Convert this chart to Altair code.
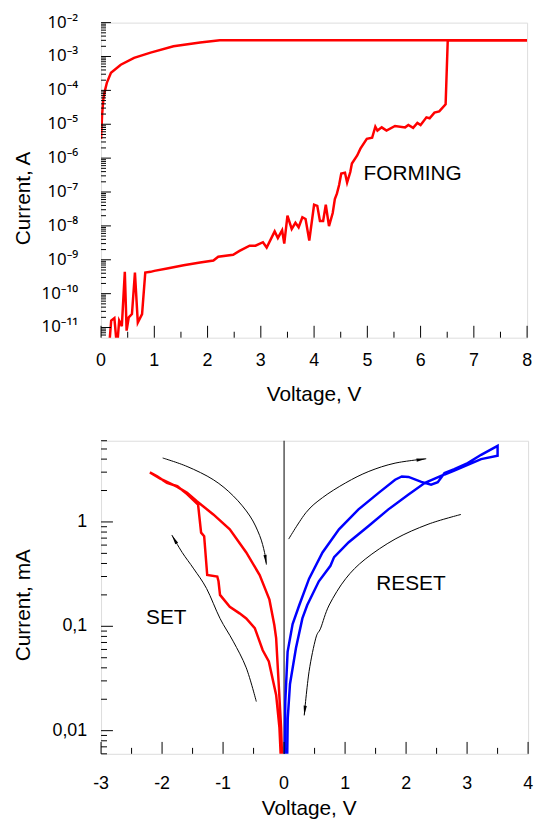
import altair as alt
import pandas as pd

FONT = "Liberation Sans"

# ---------------- top panel: forming ----------------
forming_v = [0.12, 0.16, 0.19, 0.25, 0.30, 0.34, 0.39, 0.446, 0.48, 0.52, 0.58, 0.636, 0.69, 0.77,
             0.83, 0.93, 1.00, 1.24, 1.55, 1.86, 2.11, 2.20, 2.48, 2.60, 2.79, 2.90, 3.04, 3.11,
             3.26, 3.32, 3.40, 3.44, 3.50, 3.58, 3.65, 3.71, 3.78, 3.84, 3.91, 4.00, 4.06, 4.11,
             4.17, 4.22, 4.28, 4.35, 4.39, 4.43, 4.47, 4.51, 4.58, 4.62, 4.68, 4.71, 4.81, 4.87,
             4.99, 5.09, 5.15, 5.19, 5.27, 5.36, 5.52, 5.71, 5.77, 5.86, 5.94, 6.00, 6.11, 6.17,
             6.26, 6.35, 6.47, 6.51, 8.00]
forming_i = [1.6e-12, 4.0e-12, 1.6e-11, 1.9e-11, 2.5e-12, 1.6e-11, 1.1e-11, 4.4e-10, 8.1e-12, 2.0e-11,
             2.5e-11, 4.2e-10, 1.4e-11, 2.5e-11, 4.2e-10, 4.4e-10, 4.7e-10, 5.5e-10, 6.9e-10, 8.3e-10,
             9.5e-10, 1.23e-9, 1.41e-9, 1.82e-9, 2.6e-9, 2.6e-9, 3.3e-9, 2.3e-9, 6.9e-9, 4.4e-9,
             7.4e-9, 3.0e-9, 2.0e-8, 8.1e-9, 1.23e-8, 9.1e-9, 1.8e-8, 1.6e-8, 3.7e-9, 4.2e-8,
             3.9e-8, 1.4e-8, 1.4e-8, 4.2e-8, 9.8e-9, 2.4e-8, 6.2e-8, 9.1e-8, 1.6e-7, 3.5e-7,
             3.7e-7, 1.9e-7, 3.9e-7, 6.9e-7, 1.2e-6, 1.9e-6, 3.7e-6, 4.0e-6, 8.5e-6, 6.5e-6,
             8.1e-6, 6.5e-6, 8.9e-6, 8.1e-6, 9.5e-6, 7.8e-6, 1.1e-5, 9.5e-6, 1.6e-5, 1.5e-5,
             2.2e-5, 2.4e-5, 3.9e-5, 3.0e-3, 3.0e-3]
after_v = [0.0, 0.02, 0.045, 0.074, 0.11, 0.186, 0.37, 0.62, 0.93, 1.36, 1.86, 2.23, 8.0]
after_i = [3.7e-6, 2.0e-5, 6.0e-5, 1.0e-4, 1.7e-4, 3.3e-4, 5.7e-4, 9.1e-4, 1.3e-3, 2.0e-3, 2.6e-3,
           3.0e-3, 3.0e-3]
top_text = ["FORMING"]
top_text_v = [5.85]
top_text_i = [3.5e-7]
top_x_title = "Voltage, V"
top_y_title = "Current, A"

top_x_ticks = [0, 1, 2, 3, 4, 5, 6, 7, 8]
top_x_tick_labels = ["0", "1", "2", "3", "4", "5", "6", "7", "8"]
top_x_minor = [0.5, 1.5, 2.5, 3.5, 4.5, 5.5, 6.5, 7.5]
top_y_ticks = [1e-2, 1e-3, 1e-4, 1e-5, 1e-6, 1e-7, 1e-8, 1e-9, 1e-10, 1e-11]
top_y_tick_labels = ["10⁻²", "10⁻³", "10⁻⁴", "10⁻⁵", "10⁻⁶", "10⁻⁷", "10⁻⁸", "10⁻⁹", "10⁻¹⁰", "10⁻¹¹"]
top_y_min, top_y_max = 10 ** -11.3, 1e-2
top_y_minor = [m * 10.0 ** e for e in range(-12, -2) for m in range(2, 10)
               if top_y_min <= m * 10.0 ** e <= top_y_max]

# ---------------- bottom panel: SET / RESET ----------------
set_v = [-0.05, -0.076, -0.13, -0.25, -0.35, -0.48, -0.62, -0.73, -0.89, -1.05, -1.075, -1.095,
         -1.26, -1.31, -1.36, -1.41, -1.59, -1.75, -1.92, -2.08, -2.20,
         -2.03, -1.75, -1.59, -1.43, -1.16, -0.89, -0.62, -0.40, -0.24, -0.16, -0.13, -0.088,
         -0.049, -0.03]
set_i = [0.005, 0.0107, 0.022, 0.046, 0.059, 0.096, 0.119, 0.133, 0.154, 0.20, 0.27, 0.30,
         0.31, 0.73, 0.79, 1.47, 1.85, 2.2, 2.37, 2.73, 2.98,
         2.6, 2.17, 1.9, 1.58, 1.18, 0.85, 0.51, 0.31, 0.18, 0.103, 0.077, 0.028,
         0.0107, 0.005]
reset_v = [0.01, 0.02, 0.058, 0.14, 0.25, 0.41, 0.63, 0.90, 1.22, 1.55, 1.82, 1.93, 2.04, 2.25,
           2.41, 2.52, 2.63, 2.79, 3.01, 3.23, 3.50,
           3.50, 3.23, 3.01, 2.79, 2.63, 2.31, 2.04, 1.71, 1.39, 1.06, 0.82, 0.76, 0.57, 0.38,
           0.30, 0.195, 0.097, 0.06, 0.05]
reset_i = [0.005, 0.019, 0.057, 0.105, 0.16, 0.286, 0.51, 0.85, 1.32, 1.9, 2.54, 2.73, 2.7, 2.42,
           2.28, 2.4, 2.94, 3.2, 3.66, 4.4, 5.35,
           4.3, 4.0, 3.53, 3.1, 2.85, 2.37, 1.83, 1.32, 0.92, 0.64, 0.46, 0.38, 0.27, 0.16,
           0.119, 0.062, 0.028, 0.013, 0.005]

arrow1_v = [-1.99, -1.59, -1.16, -0.83, -0.56, -0.40, -0.32, -0.29]
arrow1_i = [4.1, 3.4, 2.54, 1.77, 1.14, 0.74, 0.51, 0.39]
arrow2_v = [-0.455, -0.62, -0.835, -1.05, -1.27, -1.48, -1.67, -1.84]
arrow2_i = [0.019, 0.040, 0.072, 0.119, 0.23, 0.355, 0.51, 0.75]
arrow3_v = [0.075, 0.36, 0.63, 1.01, 1.39, 1.82, 2.33]
arrow3_i = [0.685, 1.23, 1.71, 2.37, 3.05, 3.66, 4.03]
arrow4_v = [2.90, 2.36, 1.82, 1.33, 1.01, 0.74, 0.60, 0.52, 0.41, 0.33]
arrow4_i = [1.18, 0.95, 0.685, 0.44, 0.286, 0.16, 0.096, 0.077, 0.037, 0.014]

bottom_text = ["SET", "RESET"]
bottom_text_v = [-1.93, 2.08]
bottom_text_i = [0.119, 0.256]
bot_x_title = "Voltage, V"
bot_y_title = "Current, mA"

bot_x_ticks = [-3, -2, -1, 0, 1, 2, 3, 4]
bot_x_tick_labels = ["-3", "-2", "-1", "0", "1", "2", "3", "4"]
bot_x_minor = [-2.5, -1.5, -0.5, 0.5, 1.5, 2.5, 3.5]
bot_y_ticks = [1, 0.1, 0.01]
bot_y_tick_labels = ["1", "0,1", "0,01"]
bot_y_min, bot_y_max = 0.006, 6
bot_y_minor = [m * 10.0 ** e for e in range(-3, 1) for m in range(2, 10)
               if bot_y_min <= m * 10.0 ** e <= bot_y_max]


# ---------------- helpers ----------------
def path_df(v, i):
    return pd.DataFrame({"V": v, "I": i, "k": list(range(len(v)))})


def x_ticks(values, scale, h, length):
    return alt.Chart(pd.DataFrame({"V": values})).mark_rule(color="black", strokeWidth=1).encode(
        x=alt.X("V:Q", scale=scale, axis=None), y=alt.value(h), y2=alt.value(h - length))


def y_ticks(values, scale, length):
    return alt.Chart(pd.DataFrame({"I": values})).mark_rule(color="black", strokeWidth=1).encode(
        y=alt.Y("I:Q", scale=scale, axis=None), x=alt.value(0), x2=alt.value(length))


def x_labels(values, labels, scale, y_px):
    return alt.Chart(pd.DataFrame({"V": values, "s": labels})).mark_text(
        font=FONT, fontSize=18, color="black", align="center", baseline="top").encode(
        x=alt.X("V:Q", scale=scale, axis=None), y=alt.value(y_px), text="s:N")


def y_labels(values, labels, scale, x_px, font=FONT, size=18):
    return alt.Chart(pd.DataFrame({"I": values, "s": labels})).mark_text(
        font=font, fontSize=size, color="black", align="right", baseline="middle").encode(
        y=alt.Y("I:Q", scale=scale, axis=None), x=alt.value(x_px), text="s:N")


def x_title(text, x_px, y_px):
    return alt.Chart(pd.DataFrame({"s": [text]})).mark_text(
        font=FONT, fontSize=21, color="black", align="center", baseline="top").encode(
        x=alt.value(x_px), y=alt.value(y_px), text="s:N")


def y_title(text, x_px, y_px):
    return alt.Chart(pd.DataFrame({"s": [text]})).mark_text(
        font=FONT, fontSize=21, color="black", align="center", baseline="bottom",
        angle=270).encode(x=alt.value(x_px), y=alt.value(y_px), text="s:N")


# ---------------- top chart ----------------
TW, TH = 430, 318
tx = alt.Scale(domain=[0, 8], nice=False, zero=False)
ty = alt.Scale(type="log", domain=[top_y_min, top_y_max], nice=False)

t_form = alt.Chart(path_df(forming_v, forming_i)).mark_line(
    color="#ff0000", strokeWidth=2.5, clip=True).encode(
    x=alt.X("V:Q", scale=tx, axis=None), y=alt.Y("I:Q", scale=ty, axis=None), order="k:Q")
t_after = alt.Chart(path_df(after_v, after_i)).mark_line(
    color="#ff0000", strokeWidth=2.5, clip=True).encode(
    x=alt.X("V:Q", scale=tx, axis=None), y=alt.Y("I:Q", scale=ty, axis=None), order="k:Q")
t_text = alt.Chart(pd.DataFrame({"V": top_text_v, "I": top_text_i, "t": top_text})).mark_text(
    font=FONT, fontSize=21, color="black", align="center", baseline="middle").encode(
    x=alt.X("V:Q", scale=tx, axis=None), y=alt.Y("I:Q", scale=ty, axis=None), text="t:N")

top = alt.layer(
    t_form, t_after, t_text,
    x_ticks(top_x_ticks, tx, TH, 12), x_ticks(top_x_minor, tx, TH, 6),
    y_ticks(top_y_ticks, ty, 10), y_ticks(top_y_minor, ty, 5),
    x_labels(top_x_ticks, top_x_tick_labels, tx, TH + 15),
    y_labels(top_y_ticks, top_y_tick_labels, ty, -23, font="Noto Sans", size=17),
    x_title(top_x_title, TW / 2, TH + 47),
    y_title(top_y_title, -68, 177.5),
).properties(width=TW, height=TH)

# ---------------- bottom chart ----------------
BW, BH = 431, 316
bx = alt.Scale(domain=[-3, 4], nice=False, zero=False)
by = alt.Scale(type="log", domain=[bot_y_min, bot_y_max], nice=False)

zero_rule = alt.Chart(pd.DataFrame({"V": [0]})).mark_rule(color="black", strokeWidth=1).encode(
    x=alt.X("V:Q", scale=bx, axis=None))

b_set = alt.Chart(path_df(set_v, set_i)).mark_line(
    color="#ff0000", strokeWidth=2.5, clip=True).encode(
    x=alt.X("V:Q", scale=bx, axis=None), y=alt.Y("I:Q", scale=by, axis=None), order="k:Q")
b_reset = alt.Chart(path_df(reset_v, reset_i)).mark_line(
    color="#0000ff", strokeWidth=2.5, clip=True).encode(
    x=alt.X("V:Q", scale=bx, axis=None), y=alt.Y("I:Q", scale=by, axis=None), order="k:Q")

arrows = []
for n, (av, ai) in enumerate([(arrow1_v, arrow1_i), (arrow2_v, arrow2_i),
                              (arrow3_v, arrow3_i), (arrow4_v, arrow4_i)]):
    d = path_df(av, ai)
    d["a"] = n
    arrows.append(d)
arrow_df = pd.concat(arrows, ignore_index=True)

b_arrows = alt.Chart(arrow_df).mark_line(
    color="black", strokeWidth=1, interpolate="cardinal", clip=True).encode(
    x=alt.X("V:Q", scale=bx, axis=None), y=alt.Y("I:Q", scale=by, axis=None),
    detail="a:N", order="k:Q")

HEAD = "M0,0L0.36,2.2L-0.36,2.2Z"
head_layers = []
for av, ai, ang in [(arrow1_v, arrow1_i, 172), (arrow2_v, arrow2_i, 330),
                    (arrow3_v, arrow3_i, 82), (arrow4_v, arrow4_i, 186)]:
    head_layers.append(
        alt.Chart(pd.DataFrame({"V": [av[-1]], "I": [ai[-1]]})).mark_point(
            shape=HEAD, filled=True, color="black", size=80, opacity=1, angle=ang).encode(
            x=alt.X("V:Q", scale=bx, axis=None), y=alt.Y("I:Q", scale=by, axis=None)))

b_text = alt.Chart(pd.DataFrame({"V": bottom_text_v, "I": bottom_text_i, "t": bottom_text})).mark_text(
    font=FONT, fontSize=21, color="black", align="center", baseline="middle").encode(
    x=alt.X("V:Q", scale=bx, axis=None), y=alt.Y("I:Q", scale=by, axis=None), text="t:N")

bottom = alt.layer(
    zero_rule, b_set, b_reset, b_arrows, *head_layers, b_text,
    x_ticks(bot_x_ticks, bx, BH, 12), x_ticks(bot_x_minor, bx, BH, 6),
    y_ticks(bot_y_ticks, by, 12), y_ticks(bot_y_minor, by, 6),
    x_labels(bot_x_ticks, bot_x_tick_labels, bx, BH + 21),
    y_labels(bot_y_ticks, bot_y_tick_labels, by, -14),
    x_title(bot_x_title, 210, BH + 45),
    y_title(bot_y_title, -68, 166),
).properties(width=BW, height=BH)

chart = alt.vconcat(top, bottom, spacing=104, bounds="flush").resolve_scale(
    x="independent", y="independent").properties(
    padding={"left": 12, "top": 9, "right": 4, "bottom": 0}).configure_view(
    stroke="black", strokeWidth=1.2).configure(background="white")

chart.save("out.html", embed_options={"renderer": "svg", "actions": False})
